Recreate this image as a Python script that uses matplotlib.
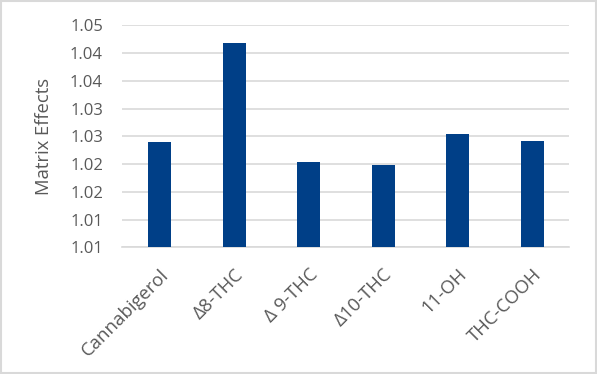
import matplotlib.pyplot as plt
from matplotlib.patches import Rectangle
import matplotlib.ticker as mticker

# Daten
categories = ["Cannabigerol", "Δ8-THC", "Δ 9-THC", "Δ10-THC", "11-OH", "THC-COOH"]
values = [1.0239, 1.0419, 1.0204, 1.0199, 1.0255, 1.0242]
tick_values = [1.005, 1.010, 1.015, 1.020, 1.025, 1.030, 1.035, 1.040, 1.045]
tick_labels = ["1.01", "1.01", "1.02", "1.02", "1.03", "1.03", "1.04", "1.04", "1.05"]

plt.rcParams['font.family'] = ['Open Sans', 'DejaVu Sans']
text_color = "#595959"
grid_color = "#d9d9d9"

fig = plt.figure(figsize=(5.97, 3.74), dpi=100)
ax = fig.add_axes([0.205, 0.3388, 0.7486, 0.5935])

x = range(len(categories))
ax.bar(x, values, width=0.31, color="#003f87", bottom=0, zorder=3)

ax.set_ylim(tick_values[0], tick_values[-1])
ax.set_xlim(-0.5, len(categories) - 0.5)
ax.yaxis.set_major_locator(mticker.FixedLocator(tick_values))
ax.yaxis.set_major_formatter(mticker.FixedFormatter(tick_labels))
ax.grid(axis="y", color=grid_color, linewidth=1.2, zorder=0)

for side in ["top", "right", "left"]:
    ax.spines[side].set_visible(False)
ax.spines["bottom"].set_color(grid_color)
ax.spines["bottom"].set_linewidth(1.2)

ax.tick_params(axis="both", length=0, colors=text_color, labelsize=12)
ax.tick_params(axis="y", pad=14)
ax.set_xticks(list(x))
ax.set_xticklabels(categories, rotation=45, ha="right", rotation_mode="anchor", fontsize=13.3)
ax.tick_params(axis="x", pad=13)

ax.set_ylabel("Matrix Effects", color=text_color, fontsize=13.3, labelpad=12)

# Rahmen um die ganze Grafik
fig.patches.append(Rectangle((0.002, 0.003), 0.996, 0.994, transform=fig.transFigure,
                             fill=False, edgecolor=grid_color, linewidth=1.5))

fig.savefig("out.png", dpi=100)
